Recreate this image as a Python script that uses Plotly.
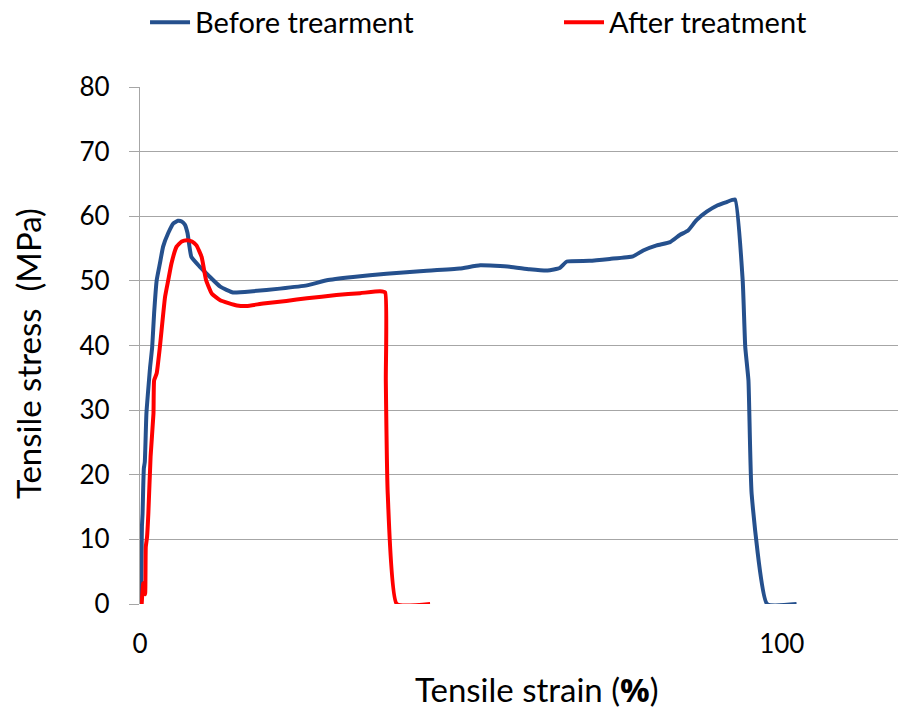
import plotly.graph_objects as go

# Tensile test curves: strain (%) vs stress (MPa)
before_strain = [0.0, 0.2, 0.25, 0.3, 0.4, 0.5, 0.6, 0.75, 1.0, 1.4, 1.56, 1.9, 2.2, 2.6, 3.1, 3.6, 4.4,
                 5.2, 5.9, 6.5, 7.0, 7.4, 8.0, 9.3, 10.9, 12.5, 14.5, 17.6, 21.8, 26.0, 29.1, 33.2,
                 38.4, 43.6, 49.8, 53.0, 57.6, 60.7, 63.5, 65.4, 66.5, 70.0, 73.2, 76.8, 78.4, 80.5,
                 82.6, 84.1, 85.4, 86.7, 88.3, 90.0, 91.4, 92.7, 93.9, 94.3, 94.8, 95.3, 97.7, 102.3]
before_stress = [0.0, 3.0, 8.0, 12.0, 14.0, 18.0, 21.0, 22.0, 29.5, 34.6, 36.5, 39.8, 45.0, 50.1, 52.7,
                 55.3, 57.4, 58.9, 59.3, 59.2, 58.7, 57.4, 53.7, 52.2, 50.6, 49.1, 48.2, 48.4, 48.8,
                 49.3, 50.1, 50.6, 51.1, 51.5, 51.9, 52.4, 52.2, 51.8, 51.6, 52.0, 53.0, 53.1, 53.4,
                 53.8, 54.7, 55.5, 56.0, 57.1, 57.8, 59.4, 60.7, 61.7, 62.2, 62.6, 50.1, 39.8, 34.6,
                 17.0, 0.0, 0.0]

after_strain = [0.26, 0.5, 0.8, 0.9, 1.1, 1.3, 1.65, 2.1, 2.2, 2.6, 3.1, 3.9, 4.4, 4.9, 5.7, 6.5, 7.3,
                8.1, 8.8, 9.6, 10.3, 11.2, 12.5, 15.1, 16.6, 19.2, 22.8, 26.0, 30.6, 34.3, 37.4, 38.2,
                38.3, 38.6, 40.0, 45.2]
after_stress = [0.0, 3.2, 1.5, 8.8, 10.4, 14.0, 22.8, 29.5, 34.6, 35.7, 39.8, 47.5, 50.1, 52.7, 55.3,
                56.1, 56.3, 56.1, 55.5, 53.7, 50.1, 48.0, 47.0, 46.2, 46.1, 46.5, 46.9, 47.3, 47.8,
                48.1, 48.4, 48.2, 34.6, 17.0, 0.0, 0.0]

y_ticks = [0, 10, 20, 30, 40, 50, 60, 70, 80]
x_ticks = [0, 100]

FONT = "Lato"
GRID = "#A6A6A6"

fig = go.Figure()
fig.add_trace(go.Scatter(x=before_strain, y=before_stress, mode="lines",
                         name="Before trearment", legend="legend",
                         line=dict(color="#25508D", width=4, shape="spline", smoothing=0.4)))
fig.add_trace(go.Scatter(x=after_strain, y=after_stress, mode="lines",
                         name="After treatment", legend="legend2",
                         line=dict(color="#FF0000", width=4, shape="spline", smoothing=0.4)))

legend_style = dict(orientation="h", y=0.969, xanchor="left", yanchor="middle",
                    xref="container", yref="container", font=dict(size=29),
                    bgcolor="rgba(0,0,0,0)", itemwidth=40)

fig.update_layout(
    width=898, height=719,
    margin=dict(l=140, r=0, t=87, b=115),
    paper_bgcolor="white", plot_bgcolor="white",
    font=dict(family=FONT, size=26, color="#000000"),
    showlegend=True,
    legend=dict(x=0.1615, **legend_style),
    legend2=dict(x=0.6225, **legend_style),
    xaxis=dict(range=[0, 118.1], tickvals=x_ticks, showgrid=False, zeroline=False,
               showline=False, ticks="", ticklabelstandoff=22,
               tickfont=dict(size=26)),
    yaxis=dict(range=[0, 80], tickvals=y_ticks, showgrid=True, gridcolor=GRID, gridwidth=1.3,
               zeroline=False, showline=True, linecolor=GRID, linewidth=1.3,
               ticks="outside", ticklen=10, tickcolor=GRID, tickwidth=1.3,
               ticklabelstandoff=14, tickfont=dict(size=26)),
    annotations=[
        dict(text="Tensile strain (<span style='font-family:Open Sans;font-weight:bold'>%</span>)",
             xref="paper", yref="paper", x=0.524, y=-0.166,
             xanchor="center", yanchor="middle", showarrow=False, font=dict(size=33)),
        dict(text="Tensile stress  (MPa)", xref="paper", yref="paper", x=-0.148, y=0.485,
             xanchor="center", yanchor="middle", showarrow=False, textangle=-90,
             font=dict(size=33)),
    ],
)

fig.write_html("out.html")
